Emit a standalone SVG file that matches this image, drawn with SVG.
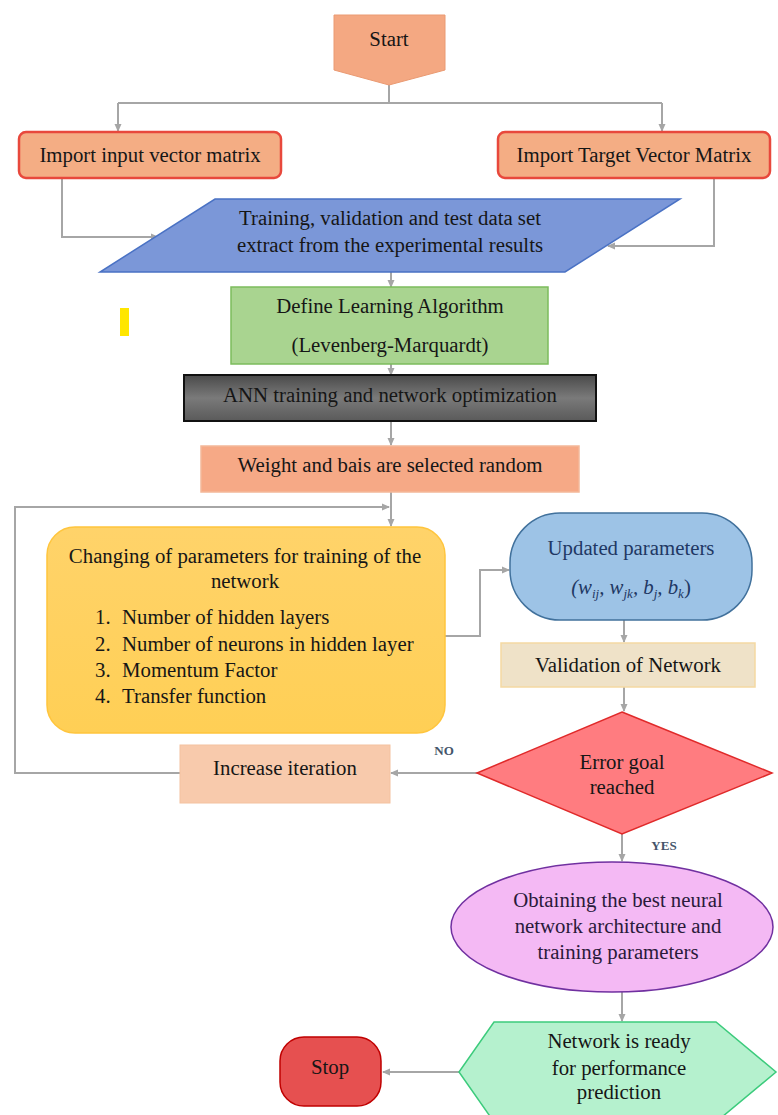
<svg xmlns="http://www.w3.org/2000/svg" width="778" height="1115" viewBox="0 0 778 1115">
<defs>
<style>
text{font-family:"Liberation Serif","Times New Roman",serif;font-size:20.8px;fill:#161616;text-anchor:middle}
.lab{font-size:13px;fill:#44546a;font-weight:bold}
.li{text-anchor:start}
.con{fill:none;stroke:#a6a6a6;stroke-width:2}
</style>
<marker id="ah" markerWidth="8" markerHeight="8" refX="7" refY="4" orient="auto" markerUnits="userSpaceOnUse">
<path d="M0,0.5 L8,4 L0,7.5 z" fill="#a6a6a6"/>
</marker>
<linearGradient id="gDark" x1="0" y1="0" x2="0" y2="1">
<stop offset="0" stop-color="#4a4a4a"/><stop offset="0.5" stop-color="#7a7a7a"/><stop offset="1" stop-color="#5a5a5a"/>
</linearGradient>
<linearGradient id="gYel" x1="0" y1="0" x2="0" y2="1">
<stop offset="0" stop-color="#ffd36a"/><stop offset="1" stop-color="#ffcf55"/>
</linearGradient>
</defs>
<rect width="778" height="1115" fill="#ffffff"/>

<g id="connectors">
<path class="con" d="M389,85 V103 M118,103 H662"/>
<path class="con" d="M118,103 V131" marker-end="url(#ah)"/>
<path class="con" d="M662,103 V131" marker-end="url(#ah)"/>
<path class="con" d="M62,178 V237 H158" marker-end="url(#ah)"/>
<path class="con" d="M714,178 V246 H608" marker-end="url(#ah)"/>
<path class="con" d="M391,272 V287" marker-end="url(#ah)"/>
<path class="con" d="M391,364 V375" marker-end="url(#ah)"/>
<path class="con" d="M391,421 V445" marker-end="url(#ah)"/>
<path class="con" d="M391,492 V526" marker-end="url(#ah)"/>
<path class="con" d="M180,773 H15 V507 H389" marker-end="url(#ah)"/>
<path class="con" d="M445,636 H480 V570 H509" marker-end="url(#ah)"/>
<path class="con" d="M624,620 V642" marker-end="url(#ah)"/>
<path class="con" d="M624,687 V711" marker-end="url(#ah)"/>
<path class="con" d="M477,773 H391" marker-end="url(#ah)"/>
<path class="con" d="M622,834 V861" marker-end="url(#ah)"/>
<path class="con" d="M622,992 V1021" marker-end="url(#ah)"/>
<path class="con" d="M459,1072 H383" marker-end="url(#ah)"/>
</g>

<g id="start">
<path d="M334,15 H445 V70 L389,85 L334,70 Z" fill="#f4a882" stroke="#ea9a72" stroke-width="1"/>
<text x="389" y="46">Start</text>
</g>

<g id="import-input">
<rect x="19" y="132" width="262" height="46" rx="7" fill="#f4ad84" stroke="#e8483c" stroke-width="2.5"/>
<text x="150" y="162">Import input vector matrix</text>
</g>

<g id="import-target">
<rect x="498" y="132" width="272" height="46" rx="7" fill="#f4ad84" stroke="#e8483c" stroke-width="2.5"/>
<text x="634" y="162">Import Target Vector Matrix</text>
</g>

<g id="dataset">
<path d="M215,199 H680 L565,272 H100 Z" fill="#7b97d8" stroke="#4a72c4" stroke-width="1.5"/>
<text x="390" y="225">Training, validation and test data set</text>
<text x="390" y="252">extract from the experimental results</text>
</g>

<g id="marker">
<rect x="120" y="308" width="9" height="28" fill="#ffe600"/>
</g>

<g id="learning">
<rect x="231" y="287" width="317" height="77" fill="#a9d490" stroke="#7cbc5c" stroke-width="1.5"/>
<text x="390" y="313">Define Learning Algorithm</text>
<text x="390" y="352">(Levenberg-Marquardt)</text>
</g>

<g id="ann">
<rect x="184" y="375" width="412" height="46" fill="url(#gDark)" stroke="#111" stroke-width="2"/>
<text x="390" y="402">ANN training and network optimization</text>
</g>

<g id="weight">
<rect x="201" y="446" width="378" height="46" fill="#f6a986" stroke="#f4b899" stroke-width="1.5"/>
<text x="390" y="472">Weight and bais are selected random</text>
</g>

<g id="changing">
<rect x="47" y="527" width="398" height="206" rx="28" fill="url(#gYel)" stroke="#ffc53d" stroke-width="1.5"/>
<text x="245" y="563">Changing of parameters for training of the</text>
<text x="245" y="588">network</text>
<text class="li" x="95" y="624">1.</text><text class="li" x="122" y="624">Number of hidden layers</text>
<text class="li" x="95" y="651">2.</text><text class="li" x="122" y="651">Number of neurons in hidden layer</text>
<text class="li" x="95" y="677">3.</text><text class="li" x="122" y="677">Momentum Factor</text>
<text class="li" x="95" y="703">4.</text><text class="li" x="122" y="703">Transfer function</text>
</g>

<g id="updated">
<rect x="510" y="513" width="242" height="107" rx="50" fill="#9dc3e6" stroke="#41719c" stroke-width="1.5"/>
<text x="631" y="555" style="fill:#1f3864">Updated parameters</text>
<text x="631" y="594" style="fill:#1f3864;font-style:italic">(w<tspan font-size="13" dy="4">ij</tspan><tspan dy="-4">, w</tspan><tspan font-size="13" dy="4">jk</tspan><tspan dy="-4">, b</tspan><tspan font-size="13" dy="4">j</tspan><tspan dy="-4">, b</tspan><tspan font-size="13" dy="4">k</tspan><tspan dy="-4" font-style="normal">)</tspan></text>
</g>

<g id="validation">
<rect x="501" y="643" width="254" height="44" fill="#efe2c8" stroke="#f5d9a2" stroke-width="1.5"/>
<text x="628" y="672">Validation of Network</text>
</g>

<g id="error-goal">
<path d="M622,712 L772,773 L622,834 L477,773 Z" fill="#ff7c80" stroke="#e02a2a" stroke-width="1.5"/>
<text x="622" y="769">Error goal</text>
<text x="622" y="794">reached</text>
</g>

<g id="labels">
<text class="lab" x="444" y="755">NO</text>
<text class="lab" x="664" y="850">YES</text>
</g>

<g id="increase">
<rect x="180" y="745" width="210" height="58" fill="#f8caac" stroke="#f4c2a0" stroke-width="1"/>
<text x="285" y="775">Increase iteration</text>
</g>

<g id="best">
<ellipse cx="612" cy="927" rx="161" ry="65" fill="#f4b9f4" stroke="#7030a0" stroke-width="1.5"/>
<text x="618" y="907" style="fill:#2a1a3a">Obtaining the best neural</text>
<text x="618" y="933" style="fill:#2a1a3a">network architecture and</text>
<text x="618" y="959" style="fill:#2a1a3a">training parameters</text>
</g>

<g id="ready">
<path d="M494,1022 H716 L776,1072 L716,1122 H494 L459,1072 Z" fill="#b5f1ce" stroke="#3ccb7c" stroke-width="1.5"/>
<text x="619" y="1048">Network is ready</text>
<text x="619" y="1075">for performance</text>
<text x="619" y="1099">prediction</text>
</g>

<g id="stop">
<rect x="280" y="1037" width="101" height="69" rx="24" fill="#e65050" stroke="#c00000" stroke-width="1.5"/>
<text x="330" y="1074">Stop</text>
</g>
</svg>
